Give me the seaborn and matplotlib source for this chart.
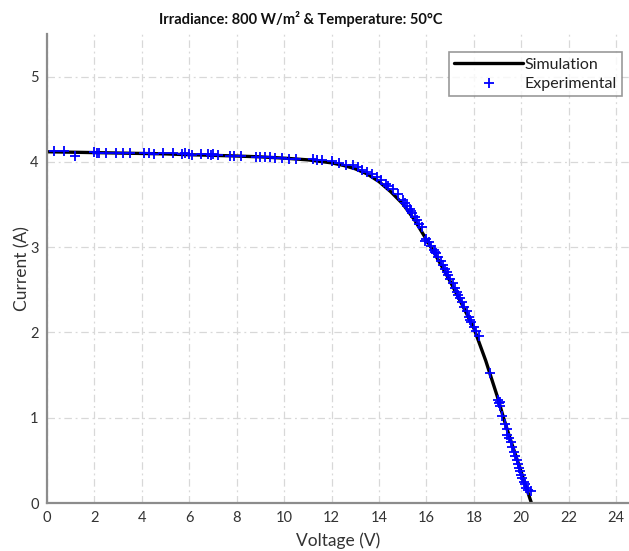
import matplotlib
matplotlib.use("Agg")
import matplotlib.pyplot as plt
import numpy as np
import pandas as pd
import seaborn as sns

# simulated I-V curve
sim_v = [0, 1, 2, 3, 4, 5, 6, 7, 8, 9, 10, 11, 12, 12.5, 13, 13.5, 14, 14.5, 15,
         15.5, 16, 16.5, 17, 17.5, 18, 18.5, 19, 19.25, 19.5, 20, 20.45]
sim_i = [4.12, 4.115, 4.11, 4.105, 4.10, 4.095, 4.085, 4.078, 4.07, 4.06, 4.045, 4.025,
         3.99, 3.96, 3.92, 3.86, 3.77, 3.65, 3.51, 3.32, 3.09, 2.85, 2.60, 2.33, 2.05,
         1.67, 1.24, 1.0, 0.78, 0.36, -0.02]

# measured points
exp_v = [0.3, 0.7, 1.2, 2.0, 2.1, 2.2, 2.5, 2.9, 3.2, 3.5, 4.1, 4.3, 4.5, 4.9, 5.3,
         5.7, 5.8, 6.0, 6.1, 6.5, 6.8, 6.9, 7.0, 7.2, 7.7, 7.9, 8.2, 8.8, 9.0, 9.2,
         9.4, 9.6, 9.9, 10.2, 10.5, 11.2, 11.4, 11.6, 12.0, 12.3, 12.6, 12.9, 13.1,
         13.3, 13.5, 13.7, 13.9, 14.1, 14.3, 14.4, 14.6, 14.8, 15.0, 15.1, 15.2, 15.3,
         15.35, 15.4, 15.5, 15.6, 15.7, 15.8, 15.95, 16.0, 16.1, 16.2, 16.3, 16.35,
         16.4, 16.5, 16.6, 16.7, 16.8, 16.85, 16.9, 17.0, 17.1, 17.2, 17.3, 17.35,
         17.4, 17.5, 17.6, 17.7, 17.8, 17.85, 17.9, 18.0, 18.1, 18.2, 18.7, 19.0,
         19.05, 19.1, 19.1, 19.2, 19.3, 19.4, 19.4, 19.5, 19.55, 19.6, 19.7, 19.75,
         19.8, 19.85, 19.9, 19.95, 20.0, 20.05, 20.1, 20.15, 20.2, 20.3, 20.4]
exp_i = [4.13, 4.13, 4.07, 4.12, 4.10, 4.11, 4.11, 4.11, 4.11, 4.10, 4.11, 4.10, 4.09,
         4.10, 4.10, 4.09, 4.10, 4.09, 4.08, 4.09, 4.09, 4.08, 4.09, 4.08, 4.07, 4.07,
         4.07, 4.06, 4.06, 4.06, 4.06, 4.05, 4.05, 4.04, 4.04, 4.03, 4.02, 4.02, 4.01,
         3.99, 3.97, 3.96, 3.94, 3.91, 3.88, 3.86, 3.82, 3.79, 3.74, 3.72, 3.68, 3.63,
         3.55, 3.52, 3.48, 3.45, 3.42, 3.40, 3.36, 3.32, 3.27, 3.24, 3.07, 3.10, 3.06,
         3.02, 2.97, 2.95, 2.93, 2.88, 2.84, 2.79, 2.74, 2.71, 2.68, 2.63, 2.58, 2.52,
         2.47, 2.44, 2.41, 2.36, 2.30, 2.25, 2.18, 2.15, 2.12, 2.07, 2.02, 1.96, 1.52,
         1.21, 1.17, 1.19, 1.14, 1.02, 0.93, 0.87, 0.80, 0.76, 0.72, 0.66, 0.60, 0.55,
         0.50, 0.46, 0.41, 0.37, 0.33, 0.29, 0.25, 0.22, 0.18, 0.15, 0.14]

sim = pd.DataFrame({"v": sim_v, "i": sim_i})
meas = pd.DataFrame({"v": exp_v, "i": exp_i})

sns.set_style("white")
plt.rcParams["font.family"] = ["Lato", "DejaVu Sans"]

fig = plt.figure(figsize=(6.29, 5.51), dpi=100)
ax = fig.add_axes([0.0747, 0.0871, 0.926, 0.851])

sns.lineplot(data=sim, x="v", y="i", color="black", linewidth=2.4,
             label="Simulation", ax=ax, zorder=2, sort=False)
sns.scatterplot(data=meas, x="v", y="i", marker="+", color="#0000ff", s=60,
                linewidth=1.3, label="Experimental", ax=ax, zorder=3)

ax.set_xlim(0, 24.56)
ax.set_ylim(0, 5.5)
ax.set_xticks(np.arange(0, 25, 2))
ax.set_yticks(np.arange(0, 6, 1))
ax.grid(True, color="#d8d8d8", linewidth=0.9, linestyle=(0, (6, 3, 1.5, 3)))
for s in ["top", "right"]:
    ax.spines[s].set_visible(False)
for s in ["left", "bottom"]:
    ax.spines[s].set_color("#8c8c8c")
    ax.spines[s].set_linewidth(1.6)
ax.tick_params(axis="both", direction="in", length=4, width=1, color="#555555",
               labelsize=10.5, labelcolor="#333333", pad=6)

ax.set_xlabel("Voltage (V)", fontsize=12.5, color="#333333", labelpad=5)
ax.set_ylabel("Current (A)", fontsize=12.5, color="#333333", labelpad=0)
ax.set_title("Irradiance: 800 W/m² & Temperature: 50°C", fontsize=10.5,
             fontweight="bold", color="#111111", pad=7, x=0.435)

leg = ax.legend(loc="upper right", bbox_to_anchor=(0.988, 0.962), fontsize=11.5,
                frameon=True, fancybox=False, borderpad=0.35, labelspacing=0.3,
                handlelength=4.3, handletextpad=0.1, borderaxespad=0)
leg.get_frame().set_edgecolor("#808080")
leg.get_frame().set_linewidth(1.2)
for t in leg.get_texts():
    t.set_color("#222222")

fig.savefig("out.png", dpi=100)
